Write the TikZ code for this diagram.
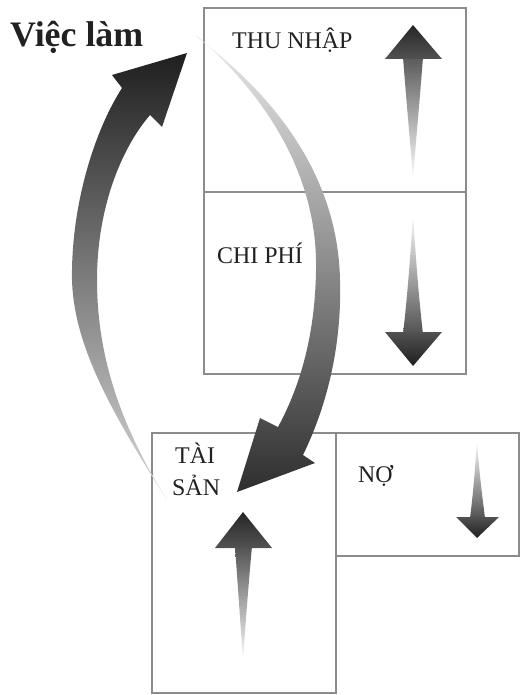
\documentclass[tikz,border=0pt]{standalone}
\usepackage{fontspec}
\setmainfont{Liberation Serif}
\definecolor{boxgray}{gray}{0.55}
\definecolor{txt}{gray}{0.13}
\begin{document}
\begin{tikzpicture}[x=1bp,y=-1bp,
  box/.style={draw=boxgray, line width=1.3bp, rectangle, inner sep=0, outer sep=0, anchor=north west},
  lbl/.style={font=\fontsize{24}{28}\selectfont, text=txt, inner sep=0, anchor=base west},
]
\useasboundingbox (0,0) rectangle (522,695);
% boxes
\node[box, minimum width=262bp, minimum height=184bp] (inc) at (204,8) {};
\node[box, minimum width=262bp, minimum height=182bp] (exp) at (204,192) {};
\node[box, minimum width=184bp, minimum height=260bp] (ast) at (152,433) {};
\node[box, minimum width=183bp, minimum height=123bp] (lia) at (336,433) {};
% labels
\node[lbl, font=\fontsize{36}{40}\selectfont\bfseries] (job) at (10,47) {Việc làm};
\node[lbl] (incl) at (232,49) {THU NHẬP};
\node[lbl] (expl) at (217,263) {CHI PHÍ};
\node[lbl] (tai) at (175,463) {TÀI};
\node[lbl] (san) at (172,495) {SẢN};
\node[lbl] (nol) at (358,482) {NỢ};
% curved arrow: assets -> job
\shade[top color=black!88, bottom color=black!15]
  (167,500) .. controls (110,410) and (70,340) .. (72,270)
  .. controls (73,200) and (95,130) .. (122,88)
  -- (112,75) -- (187,53) -- (162,127) -- (150,115)
  .. controls (120,150) and (97,210) .. (97,280)
  .. controls (97,370) and (130,440) .. (167,500)
  -- cycle;
% curved arrow: job -> assets
\shade[top color=black!8, bottom color=black!82]
  (196,35) .. controls (260,90) and (318,170) .. (316,270)
  .. controls (315,340) and (298,390) .. (278,427)
  -- (260,418) -- (237,492) -- (315,463) -- (303,455)
  .. controls (325,410) and (342,350) .. (340,280)
  .. controls (338,180) and (280,100) .. (198,38)
  -- cycle;
% income up arrow
\shade[top color=black!65, bottom color=white] (403,57) .. controls (407,110) and (411,150) .. (413,180) .. controls (415,150) and (419,110) .. (423,57) -- cycle;
\shade[top color=black!85, bottom color=black!68] (385,59) -- (413,25) -- (442,59) -- cycle;
% expense down arrow
\shade[top color=white, bottom color=black!68] (413,212) .. controls (415,250) and (419,300) .. (423,334) -- (403,334) .. controls (407,300) and (411,250) .. (413,212) -- cycle;
\shade[top color=black!68, bottom color=black!88] (385,332) -- (442,332) -- (413,366) -- cycle;
% asset up arrow
\shade[top color=black!68, bottom color=white] (235,546) .. controls (238,590) and (241,630) .. (243,662) .. controls (245,630) and (248,590) .. (252,546) -- cycle;
\shade[top color=black!85, bottom color=black!68] (215,548) -- (243,512) -- (272,548) -- cycle;
% liability down arrow
\shade[top color=white, bottom color=black!68] (477,440) .. controls (479,470) and (482,495) .. (485,518) -- (470,518) .. controls (473,495) and (475,470) .. (477,440) -- cycle;
\shade[top color=black!68, bottom color=black!88] (456,517) -- (499,517) -- (477,538) -- cycle;
\end{tikzpicture}
\end{document}
